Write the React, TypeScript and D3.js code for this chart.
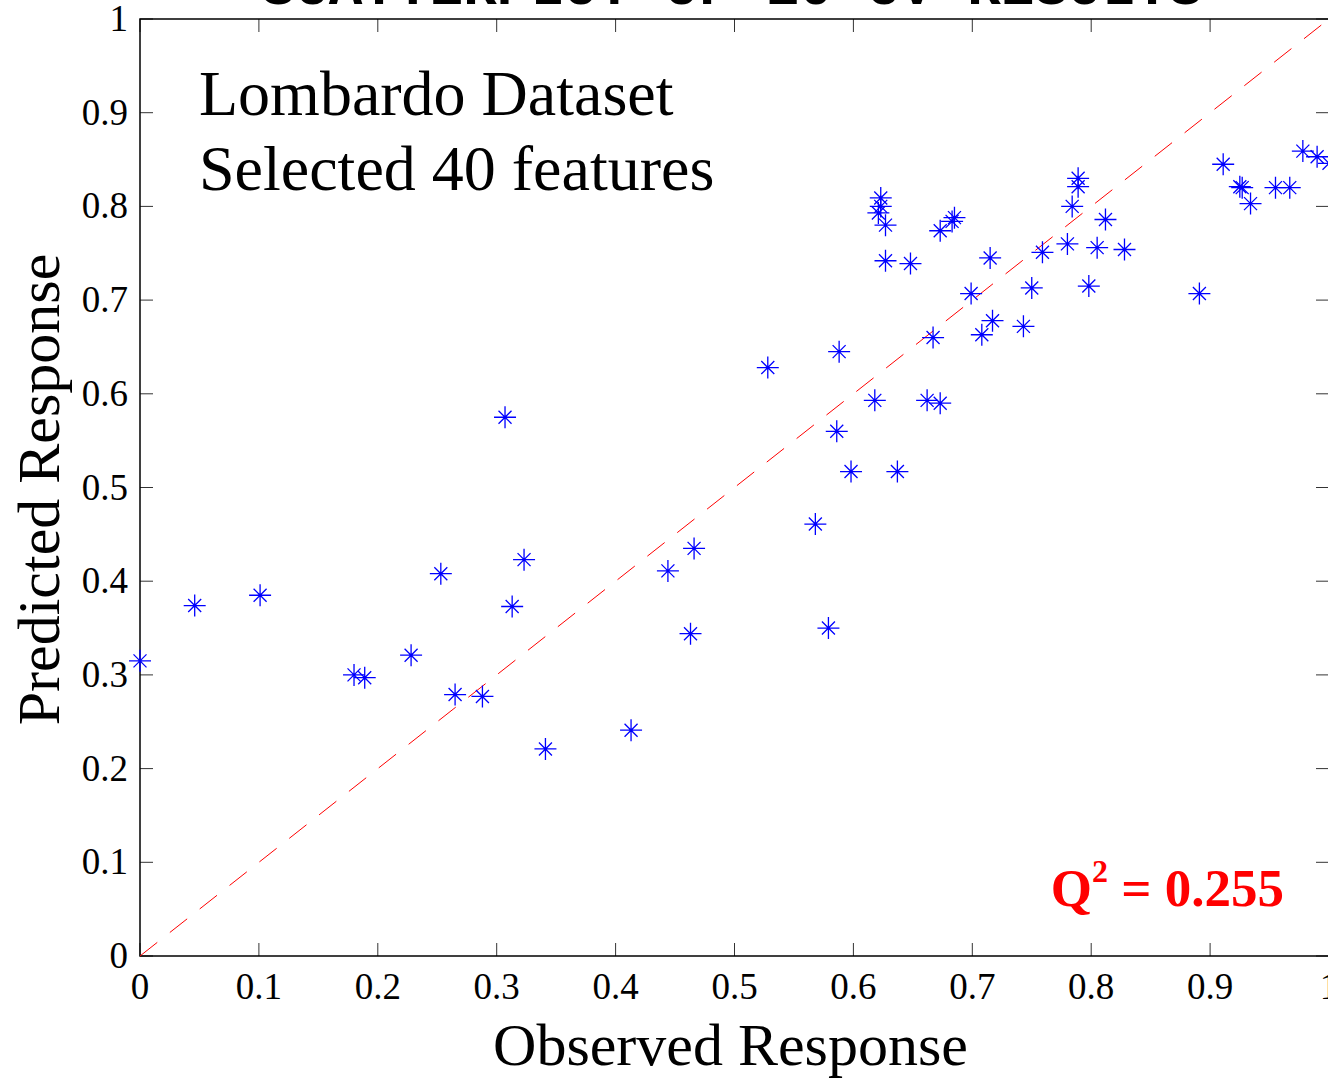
import React, { useEffect, useRef } from 'react';
import * as d3 from 'd3';

// observed vs. predicted values
const observed = [
  0.0, 0.046, 0.101, 0.253, 0.307, 0.323, 0.313, 0.228, 0.18, 0.189, 0.265, 0.288, 0.341,
  0.413, 0.444, 0.466, 0.463, 0.528, 0.588, 0.586, 0.598, 0.637, 0.568, 0.579, 0.618,
  0.662, 0.673, 0.667, 0.627, 0.648, 0.623, 0.623, 0.621, 0.627, 0.673, 0.683, 0.685,
  0.715, 0.699, 0.717, 0.708, 0.743, 0.759, 0.78, 0.805, 0.828, 0.812, 0.789, 0.789,
  0.784, 0.75, 0.798, 0.891, 0.911, 0.925, 0.927, 0.934, 0.955, 0.967, 0.978, 0.99, 1.0,
];
const predicted = [
  0.315, 0.374, 0.385, 0.408, 0.575, 0.423, 0.373, 0.321, 0.3, 0.297, 0.279, 0.277, 0.221,
  0.241, 0.411, 0.435, 0.344, 0.628, 0.645, 0.56, 0.517, 0.517, 0.461, 0.35, 0.593,
  0.593, 0.59, 0.66, 0.742, 0.739, 0.809, 0.8, 0.793, 0.78, 0.774, 0.784, 0.788,
  0.745, 0.707, 0.678, 0.663, 0.672, 0.751, 0.76, 0.756, 0.754, 0.786, 0.83, 0.821,
  0.8, 0.713, 0.715, 0.707, 0.845, 0.821, 0.82, 0.803, 0.82, 0.82, 0.859, 0.853, 0.846,
];
const tickValues = [0, 0.1, 0.2, 0.3, 0.4, 0.5, 0.6, 0.7, 0.8, 0.9, 1];
const titleText = 'SCATTERPLOT OF 10 CV RESULTS';
const noteLines = ['Lombardo Dataset', 'Selected 40 features'];
const q2Value = '0.255';

const App = () => {
  const ref = useRef<SVGSVGElement | null>(null);

  useEffect(() => {
    const svg = d3.select(ref.current);
    svg.selectAll('*').remove();

    const W = 1328, H = 1078;
    const margin = { left: 140, top: 19 };
    const width = 1189, height = 937;
    const serif = '"Liberation Serif", "Times New Roman", serif';

    const x = d3.scaleLinear().domain([0, 1]).range([0, width]);
    const y = d3.scaleLinear().domain([0, 1]).range([height, 0]);

    svg.append('rect').attr('width', W).attr('height', H).attr('fill', '#fff');

    // title, mostly outside the picture
    svg.append('text')
      .attr('x', 732).attr('y', 4)
      .attr('text-anchor', 'middle')
      .attr('font-family', '"Liberation Mono", "Courier New", monospace')
      .attr('font-weight', 'bold')
      .attr('font-size', 56)
      .text(titleText);

    const g = svg.append('g').attr('transform', `translate(${margin.left},${margin.top})`);

    // ticks on all four sides, pointing inward
    const tl = 13;
    tickValues.forEach(v => {
      g.append('line').attr('x1', x(v)).attr('x2', x(v)).attr('y1', height).attr('y2', height - tl)
        .attr('stroke', '#333').attr('stroke-width', 1);
      g.append('line').attr('x1', x(v)).attr('x2', x(v)).attr('y1', 0).attr('y2', tl)
        .attr('stroke', '#333').attr('stroke-width', 1);
      g.append('line').attr('y1', y(v)).attr('y2', y(v)).attr('x1', 0).attr('x2', tl)
        .attr('stroke', '#333').attr('stroke-width', 1);
      g.append('line').attr('y1', y(v)).attr('y2', y(v)).attr('x1', width).attr('x2', width - tl)
        .attr('stroke', '#333').attr('stroke-width', 1);
    });

    g.append('rect').attr('x', 0).attr('y', 0).attr('width', width).attr('height', height)
      .attr('fill', 'none').attr('stroke', '#000').attr('stroke-width', 1.5);

    // tick labels
    g.selectAll('.xl').data(tickValues).enter().append('text')
      .attr('x', d => x(d)).attr('y', height + 43)
      .attr('text-anchor', 'middle')
      .attr('font-family', serif).attr('font-size', 37)
      .text(d => d3.format('')(d));
    g.selectAll('.yl').data(tickValues).enter().append('text')
      .attr('x', -12).attr('y', d => y(d) + 12)
      .attr('text-anchor', 'end')
      .attr('font-family', serif).attr('font-size', 37)
      .text(d => d3.format('')(d));

    // identity line
    g.append('line')
      .attr('x1', x(0)).attr('y1', y(0)).attr('x2', x(1)).attr('y2', y(1))
      .attr('stroke', '#ff0000').attr('stroke-width', 1)
      .attr('stroke-dasharray', '22 16');

    // asterisk markers
    const r = 11, dr = 6.5;
    const star = `M${-r},0H${r}M0,${-r}V${r}M${-dr},${-dr}L${dr},${dr}M${-dr},${dr}L${dr},${-dr}`;
    g.selectAll('.pt').data(observed.map((o, i) => [o, predicted[i]])).enter().append('path')
      .attr('transform', d => `translate(${x(d[0])},${y(d[1])})`)
      .attr('d', star)
      .attr('fill', 'none')
      .attr('stroke', '#0000ff')
      .attr('stroke-width', 1.3);

    // annotation text
    noteLines.forEach((t, i) => {
      svg.append('text')
        .attr('x', 199).attr('y', 115 + i * 75)
        .attr('font-family', serif).attr('font-size', 64)
        .text(t);
    });

    const q = svg.append('text')
      .attr('x', 1284).attr('y', 906)
      .attr('text-anchor', 'end')
      .attr('font-family', serif).attr('font-weight', 'bold')
      .attr('font-size', 53).attr('fill', '#ff0000');
    q.append('tspan').text('Q');
    q.append('tspan').attr('font-size', 32).attr('dy', -24).text('2');
    q.append('tspan').attr('dy', 24).text(` = ${q2Value}`);

    // axis labels
    svg.append('text')
      .attr('x', margin.left + width / 2 - 4).attr('y', 1065)
      .attr('text-anchor', 'middle')
      .attr('font-family', serif).attr('font-size', 60)
      .text('Observed Response');
    svg.append('text')
      .attr('transform', `translate(59,${margin.top + height / 2 + 2}) rotate(-90)`)
      .attr('text-anchor', 'middle')
      .attr('font-family', serif).attr('font-size', 60)
      .text('Predicted Response');
  }, []);

  return (
    <svg ref={ref} width={1328} height={1078}
      style={{ position: 'absolute', left: 0, top: 0, display: 'block' }} />
  );
};

export default App;
